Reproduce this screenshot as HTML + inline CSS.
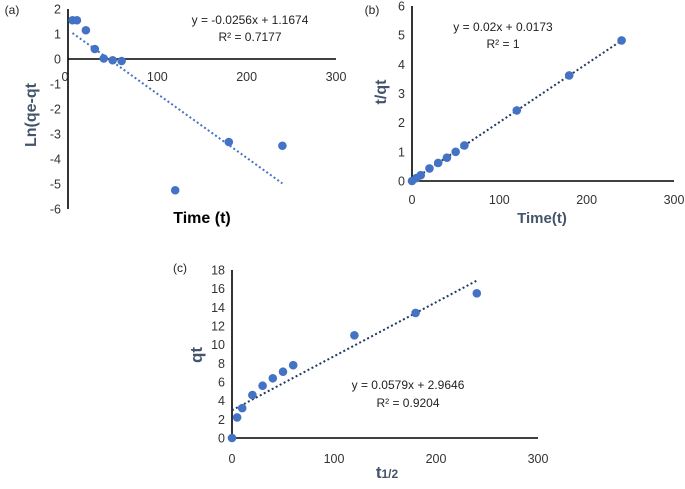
<!DOCTYPE html>
<html><head><meta charset="utf-8"><style>
body{margin:0;background:#fff;}
svg text{font-family:"Liberation Sans",sans-serif;}
</style></head><body>
<svg id="s" width="685" height="484" xmlns="http://www.w3.org/2000/svg"></svg>
<script>
const xA=[5,10,20,30,40,50,60,120,180,240];
const yA=[1.55,1.55,1.15,0.4,0.02,-0.05,-0.08,-5.25,-3.32,-3.47];
const xB=[0,5,10,20,30,40,50,60,120,180,240];
const yB=[0,0.1,0.2,0.43,0.62,0.8,1.0,1.22,2.42,3.62,4.82];
const xC=[0,5,10,20,30,40,50,60,120,180,240];
const yC=[0,2.2,3.2,4.6,5.6,6.4,7.1,7.8,11.0,13.4,15.5];
const xTicks=[0,100,200,300];
const yTicksA=[2,1,0,-1,-2,-3,-4,-5,-6];
const yTicksB=[0,1,2,3,4,5,6];
const yTicksC=[0,2,4,6,8,10,12,14,16,18];
const fitA=[-0.0256,1.1674], fitB=[0.02,0.0173], fitC=[0.0579,2.9646];
const NS="http://www.w3.org/2000/svg", svg=document.getElementById('s');
function mk(t,a,txt){const e=document.createElementNS(NS,t);for(const k in a)e.setAttribute(k,a[k]);if(txt!==undefined)e.textContent=txt;svg.appendChild(e);return e;}
function chart(p){
  const sx=v=>p.x0+(v-0)/300*(p.x1-p.x0);
  const sy=v=>p.y0+(v-p.ymin)/(p.ymax-p.ymin)*(p.y1-p.y0);
  const ax=sy(0);
  let e=mk('line',{x1:p.x0,y1:sy(p.ymin),x2:p.x0,y2:sy(p.ymax),stroke:'#000','stroke-width':1.6});
  
  e=mk('line',{x1:p.x0,y1:ax,x2:p.x1,y2:ax,stroke:'#000','stroke-width':1.6});
  
  p.yt.forEach(v=>{e=mk('text',{x:p.x0-7,y:sy(v)+4.5,'text-anchor':'end','font-size':12.5,fill:'#333'},v);
    });
  xTicks.forEach(v=>{e=mk('text',{x:sx(v)-(v===0&&p.n==='a'?3:0),y:p.xly,'text-anchor':'middle','font-size':12.5,fill:'#333'},v);
    });
  const xs=p.xs, f=p.fit, xa=xs[0], xb=xs[xs.length-1];
  e=mk('line',{x1:sx(xa),y1:sy(f[0]*xa+f[1]),x2:sx(xb),y2:sy(f[0]*xb+f[1]),stroke:p.tc,'stroke-width':2,'stroke-dasharray':'2 2.5'});
  
  xs.forEach((v,i)=>{e=mk('circle',{cx:sx(v),cy:sy(p.ys[i]),r:4.3,fill:'#4472c4'});
    });
}
chart({n:'a',x0:68,x1:336,y0:9,y1:209,ymin:2,ymax:-6,yt:yTicksA,xly:81,xs:xA,ys:yA,fit:fitA,tc:'#4472c4'});
chart({n:'b',x0:412,x1:674,y0:181,y1:6,ymin:0,ymax:6,yt:yTicksB,xly:204,xs:xB,ys:yB,fit:fitB,tc:'#1f3864'});
chart({n:'c',x0:232,x1:538,y0:438,y1:270,ymin:0,ymax:18,yt:yTicksC,xly:463,xs:xC,ys:yC,fit:fitC,tc:'#1f3864'});
function t(x,y,s,a,name){const e=mk('text',Object.assign({x:x,y:y,'text-anchor':'middle','font-size':12,fill:'#222'},a||{}),s);
  return e;}
t(12,14,'(a)',{},'panel-a-label');t(372,14,'(b)',{},'panel-b-label');t(180,272,'(c)',{},'panel-c-label');
t(250,24,'y = -0.0256x + 1.1674',{},'a-equation');t(250,41,'R² = 0.7177',{},'a-r-squared');
t(503,31,'y = 0.02x + 0.0173',{},'b-equation');t(503,48,'R² = 1',{},'b-r-squared');
t(408,389,'y = 0.0579x + 2.9646',{},'c-equation');t(408,407,'R² = 0.9204',{},'c-r-squared');
t(202,223,'Time (t)',{'font-size':16,'font-weight':'bold',fill:'#000'},'a-x-axis-title');
t(36,115,'Ln(qe-qt',{'font-size':16,'font-weight':'bold',fill:'#44546a',transform:'rotate(-90 36 115)'},'a-y-axis-title');
t(542,223,'Time(t)',{'font-size':15,'font-weight':'bold',fill:'#44546a'},'b-x-axis-title');
t(386,92,'t/qt',{'font-size':16,'font-weight':'bold',fill:'#44546a',transform:'rotate(-90 386 92)'},'b-y-axis-title');
const tt=t(387,478,'t',{'font-size':17,'font-weight':'bold',fill:'#44546a'},'c-x-axis-title');
const ts=document.createElementNS(NS,'tspan');ts.setAttribute('font-size','12');ts.textContent='1/2';tt.appendChild(ts);
t(202,355,'qt',{'font-size':17,'font-weight':'bold',fill:'#44546a',transform:'rotate(-90 202 355)'},'c-y-axis-title');
</script>
</body></html>
